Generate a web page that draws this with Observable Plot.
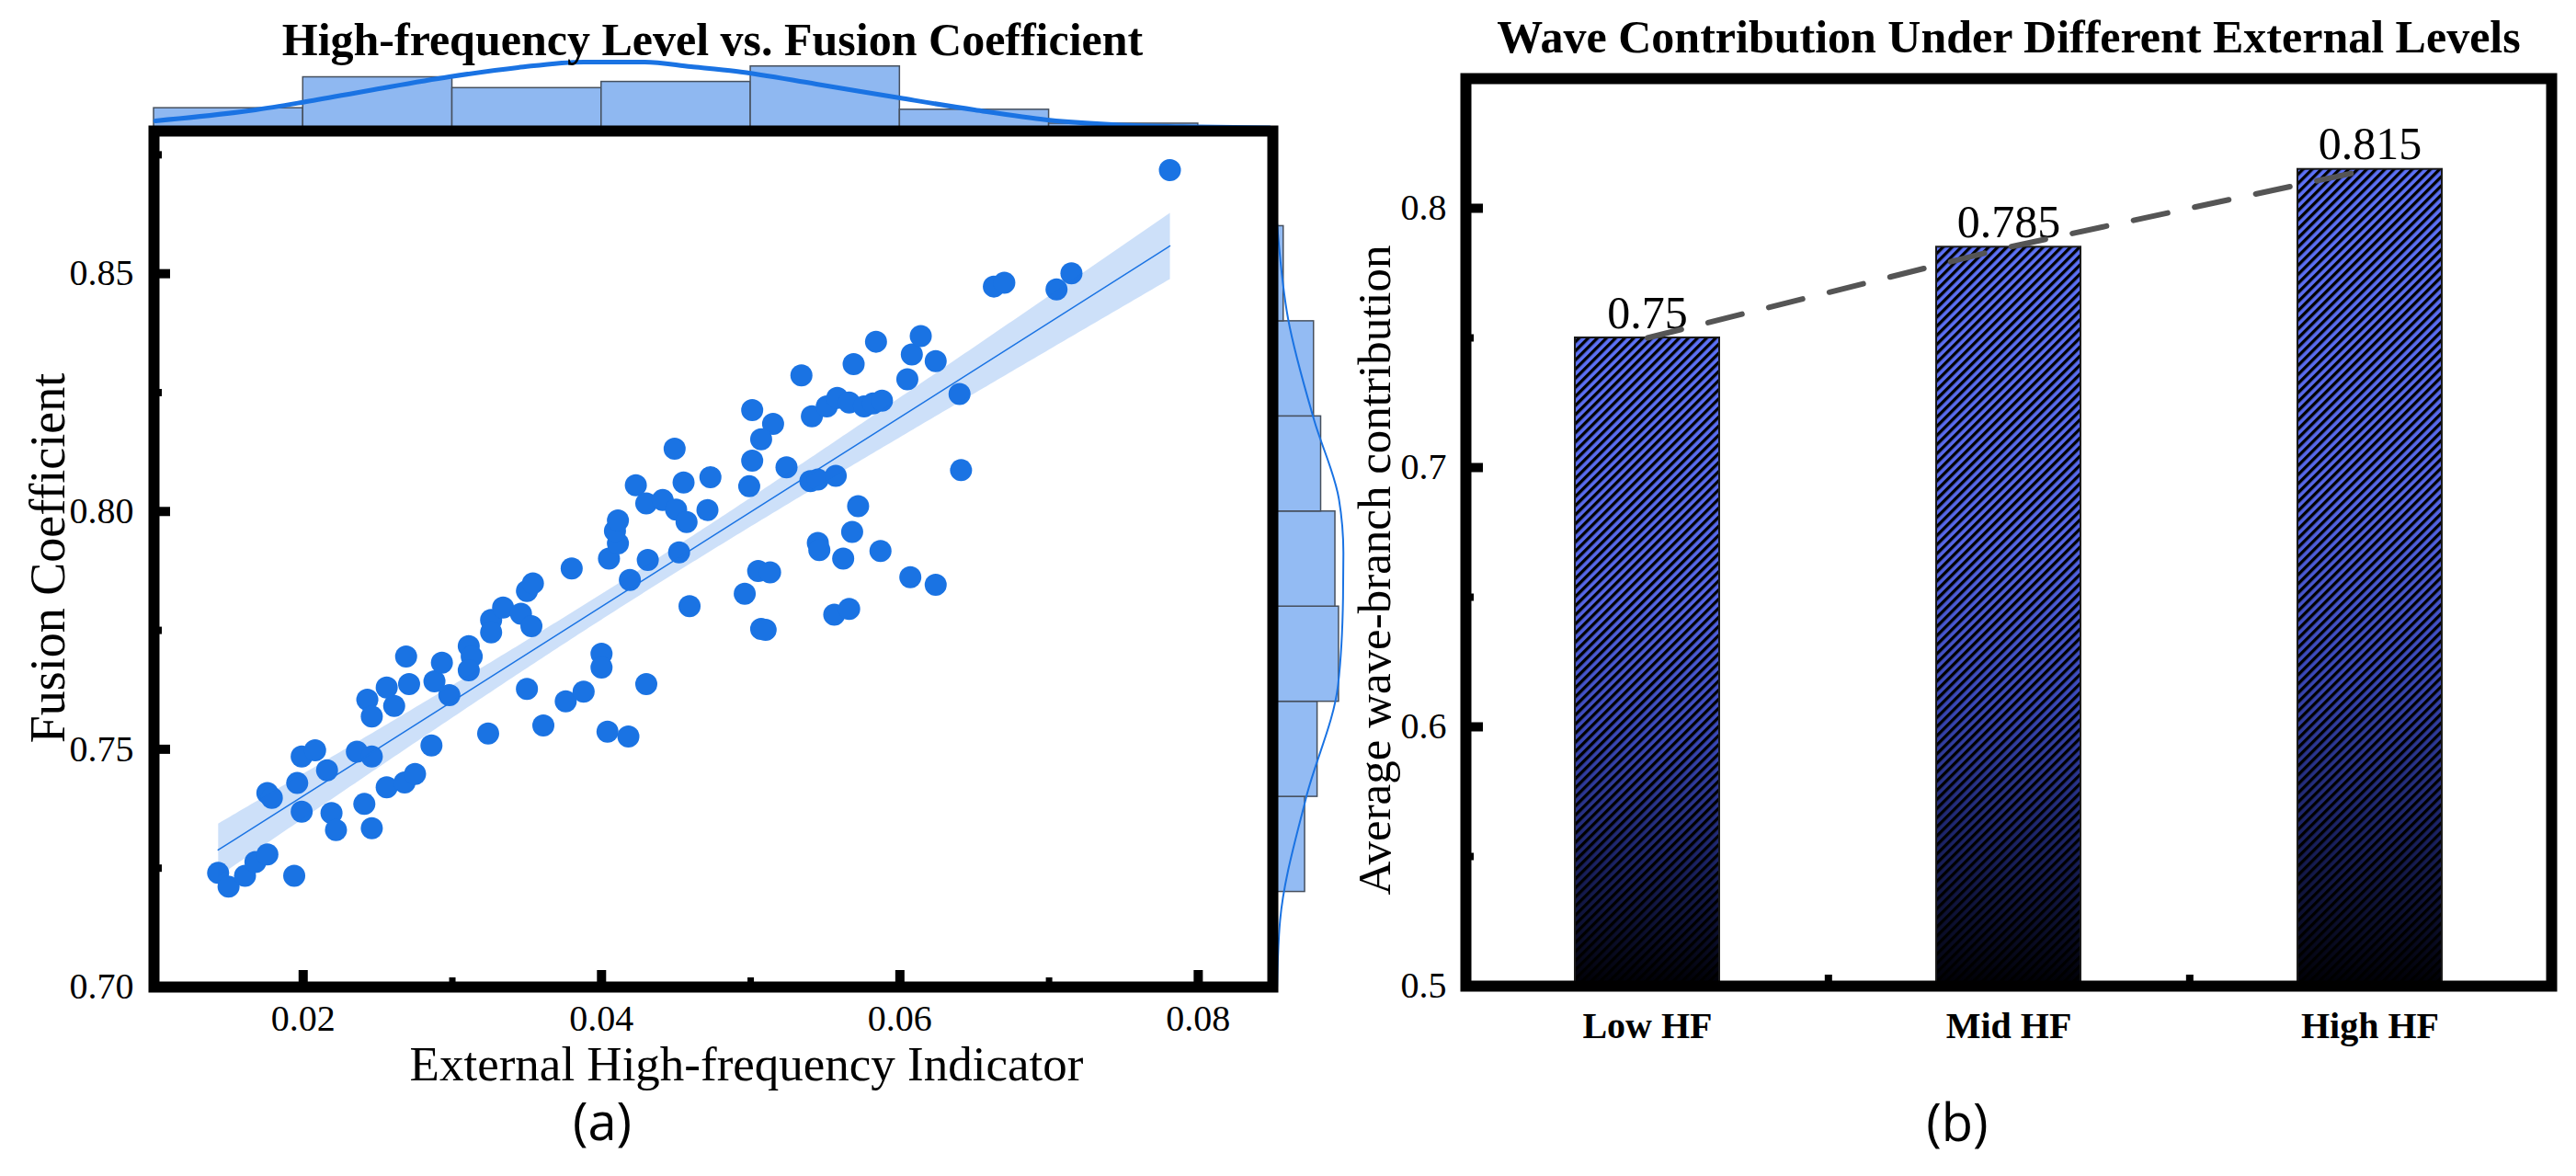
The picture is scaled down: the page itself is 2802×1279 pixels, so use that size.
<!DOCTYPE html>
<html><head><meta charset="utf-8">
<script src="https://cdn.jsdelivr.net/npm/d3@7"></script>
<script src="https://cdn.jsdelivr.net/npm/@observablehq/plot@0.6"></script>
<style>
html,body{margin:0;padding:0;background:#fff;}
#root{position:relative;width:2802px;height:1279px;overflow:hidden;background:#fff;}
</style></head>
<body><div id="root"></div>
<script>
// ---------------- DATA ----------------
const scatterX = [0.0143,0.0150,0.0161,0.0168,0.0176,0.0194,0.0176,0.0179,0.0196,0.0216,
0.0199,0.0219,0.0222,0.0246,0.0241,0.0256,0.0268,0.0275,0.0199,0.0208,
0.0236,0.0246,0.0286,0.0243,0.0246,0.0261,0.0256,0.0271,0.0288,0.0298,
0.0293,0.0269,0.0311,0.0313,0.0311,0.0324,0.0326,0.0326,0.0334,0.0346,
0.0353,0.0350,0.0354,0.0380,0.0350,0.0361,0.0376,0.0388,0.0400,0.0400,
0.0404,0.0418,0.0430,0.0405,0.0411,0.0409,0.0411,0.0419,0.0423,0.0430,
0.0441,0.0450,0.0457,0.0471,0.0431,0.0452,0.0449,0.0455,0.0473,0.0459,
0.0501,0.0515,0.0507,0.0501,0.0499,0.0524,0.0505,0.0513,0.0496,0.0507,
0.0510,0.0534,0.0541,0.0551,0.0558,0.0566,0.0576,0.0582,0.0588,0.0569,
0.0584,0.0540,0.0545,0.0557,0.0572,0.0568,0.0545,0.0546,0.0562,0.0587,
0.0556,0.0566,0.0605,0.0608,0.0614,0.0624,0.0640,0.0641,0.0607,0.0624,
0.0663,0.0670,0.0705,0.0715,0.0781];
const scatterY = [0.7240,0.7211,0.7234,0.7263,0.7279,0.7234,0.7408,0.7398,0.7429,0.7456,
0.7369,0.7366,0.7330,0.7334,0.7385,0.7420,0.7430,0.7448,0.7485,0.7498,
0.7495,0.7485,0.7508,0.7604,0.7569,0.7591,0.7630,0.7637,0.7643,0.7614,
0.7682,0.7695,0.7717,0.7695,0.7666,0.7533,0.7772,0.7746,0.7798,0.7785,
0.7759,0.7833,0.7849,0.7880,0.7627,0.7550,0.7601,0.7621,0.7701,0.7672,
0.7537,0.7527,0.7637,0.7901,0.7933,0.7959,0.7981,0.7856,0.8055,0.8017,
0.8024,0.8004,0.7978,0.8003,0.7898,0.7914,0.8132,0.8061,0.8072,0.7801,
0.8213,0.8184,0.8152,0.8107,0.8053,0.8093,0.7875,0.7872,0.7827,0.7753,
0.7751,0.8286,0.8200,0.8221,0.8239,0.8229,0.8221,0.8227,0.8233,0.8310,
0.8357,0.8064,0.8067,0.8075,0.8011,0.7957,0.7934,0.7919,0.7901,0.7917,
0.7783,0.7795,0.8278,0.8330,0.8369,0.8316,0.8247,0.8087,0.7862,0.7846,
0.8473,0.8481,0.8467,0.8501,0.8718];

// marginal histogram of x (bin edges + counts)
const xBinEdges = [0.01,0.02,0.03,0.04,0.05,0.06,0.07,0.08];
const xBinCounts = [13,33,26,30,40,12,3];
// marginal histogram of y
const yBinEdges = [0.72,0.74,0.76,0.78,0.80,0.82,0.84,0.86];
const yBinCounts = [16,23,35,33,25,21,4];

// marginal density curves (count units)
const kdeTopX = [0.0101,0.0168,0.0199,0.0244,0.0298,0.0344,0.0388,0.0429,0.0460,0.0490,0.0544,0.0600,0.0650,0.0699,0.0757,0.0800,0.0848];
const kdeTopD = [4.8,11.9,16.7,24.4,33.3,39.3,42.9,42.9,39.9,36.9,28.6,19.6,11.9,5.4,1.8,0.9,0.3];
const kdeRightY = [0.8606,0.8405,0.8192,0.8026,0.7913,0.7817,0.7635,0.7397,0.714,0.700];
const kdeRightD = [0.3,6.5,21.1,35,37.5,37.3,34.5,16.5,2,0.3];

// axis ticks, left panel
const leftXTicks = [0.02,0.04,0.06,0.08];
const leftXMinor = [0.03,0.05,0.07];
const leftYTicks = [0.70,0.75,0.80,0.85];
const leftYMinor = [0.725,0.775,0.825,0.875];

// right panel
const categories = ["Low HF","Mid HF","High HF"];
const barValues = [0.75,0.785,0.815];
const barBase = 0.5;
const rightYTicks = [0.5,0.6,0.7,0.8];
const rightYMinor = [0.55,0.65,0.75];

// ---------------- TABLES ----------------
const points = scatterX.map((x,i)=>({x, y: scatterY[i]}));
const xHist = xBinCounts.map((c,i)=>({x1: xBinEdges[i], x2: xBinEdges[i+1], count: c}));
const yHist = yBinCounts.map((c,i)=>({y1: yBinEdges[i], y2: yBinEdges[i+1], count: c}));
const kdeTop = kdeTopX.map((x,i)=>({x, d: kdeTopD[i]}));
const kdeRight = kdeRightY.map((y,i)=>({y, d: kdeRightD[i]}));
const bars = categories.map((c,i)=>({cat: c, value: barValues[i]}));

// ---------------- STYLE ----------------
const BLUE = "#1a73e3";
const SERIF = "'Liberation Serif','Times New Roman',Times,serif";
const fmt2 = d3.format(".2f");
const fmt1 = d3.format(".1f");
const root = document.getElementById("root");

function place(el, left, top) {
  Object.assign(el.style, {position: "absolute", left: left + "px", top: top + "px",
    background: "transparent", maxWidth: "none", overflow: "visible"});
  root.appendChild(el);
}

// ---------------- LEFT: marginals ----------------
const topM = Plot.plot({
  width: 1400, height: 139, marginLeft: 167, marginRight: 16, marginTop: 0, marginBottom: 0,
  x: {domain: [0.01, 0.085], axis: null},
  y: {domain: [0, 82.7], axis: null},
  marks: [
    Plot.rectY(xHist, {x1: "x1", x2: "x2", y: "count", fill: "#8fb8f1", stroke: "#46505e", strokeWidth: 1.5}),
    Plot.line(kdeTop, {x: "x", y: "d", curve: "monotone-x", stroke: BLUE, strokeWidth: 5}),
    Plot.ruleY([0], {stroke: "#0b2a5a", strokeWidth: 5})
  ]
});
place(topM, 0, 0);

const rightM = Plot.plot({
  width: 110, height: 1279, marginLeft: 0, marginRight: 0, marginTop: 142, marginBottom: 206,
  x: {domain: [0, 56.7], axis: null},
  y: {domain: [0.70, 0.88], axis: null},
  marks: [
    Plot.rectX(yHist, {y1: "y1", y2: "y2", x: "count", fill: "#93bbf3", stroke: "#46505e", strokeWidth: 1.5}),
    Plot.line(kdeRight, {x: "d", y: "y", curve: "monotone-y", stroke: BLUE, strokeWidth: 2})
  ]
});
place(rightM, 1388, 0);

// ---------------- LEFT: joint ----------------
const jW = 1400 - 167 - 16, jH = 1279 - 142 - 206;
const joint = Plot.plot({
  width: 1400, height: 1279, marginLeft: 167, marginRight: 16, marginTop: 142, marginBottom: 206,
  x: {domain: [0.01, 0.085], axis: null},
  y: {domain: [0.70, 0.88], axis: null},
  marks: [
    Plot.dot(points, {x: "x", y: "y", r: 12, fill: BLUE}),
    Plot.linearRegressionY(points, {x: "x", y: "y", stroke: BLUE, strokeWidth: 1.5, fill: BLUE, fillOpacity: 0.22}),
    Plot.ruleX(leftXTicks, {x: d => d, stroke: "black", strokeWidth: 10, insetTop: jH - 18}),
    Plot.ruleX(leftXMinor, {x: d => d, stroke: "black", strokeWidth: 7, insetTop: jH - 10}),
    Plot.ruleY(leftYTicks, {y: d => d, stroke: "black", strokeWidth: 10, insetRight: jW - 18}),
    Plot.ruleY(leftYMinor, {y: d => d, stroke: "black", strokeWidth: 8, insetRight: jW - 9}),
    Plot.frame({stroke: "black", strokeWidth: 12}),
    Plot.text(leftXTicks, {x: d => d, text: d => fmt2(d), frameAnchor: "bottom", lineAnchor: "bottom", dy: 47,
      fontSize: 40, fontFamily: SERIF, fill: "black"}),
    Plot.text(leftYTicks, {y: d => d, text: d => fmt2(d), frameAnchor: "left", textAnchor: "end", lineAnchor: "middle", dx: -22,
      fontSize: 40, fontFamily: SERIF, fill: "black"})
  ]
});
place(joint, 0, 0);

// ---------------- RIGHT: bars ----------------
const rW = 1402 - 194 - 27, rH = 1279 - 85 - 207;
const nCat = categories.length, pIn = 0.6, pOut = 0.3;
const step = rW / (nCat - pIn + 2 * pOut);

function defsMark() {
  const defs = d3.create("svg:defs");
  const g = defs.append("linearGradient").attr("id", "barGrad")
    .attr("x1", "0").attr("y1", "0").attr("x2", "0").attr("y2", "1");
  [["0%", "#5d72f7"], ["40%", "#5667e8"], ["62%", "#3a48b8"], ["80%", "#1c2468"], ["100%", "#000005"]]
    .forEach(([o, c]) => g.append("stop").attr("offset", o).attr("stop-color", c));
  const p = defs.append("pattern").attr("id", "barHatch").attr("patternUnits", "userSpaceOnUse")
    .attr("width", 7).attr("height", 7).attr("patternTransform", "rotate(45)");
  p.append("rect").attr("x", 0).attr("y", 0).attr("width", 3.3).attr("height", 7).attr("fill", "#000");
  return defs.node();
}

const rightChart = Plot.plot({
  width: 1402, height: 1279, marginLeft: 194, marginRight: 27, marginTop: 85, marginBottom: 207,
  x: {domain: categories, paddingInner: pIn, paddingOuter: pOut, align: 0.5, axis: null},
  y: {domain: [0.5, 0.85], axis: null},
  marks: [
    defsMark,
    Plot.barY(bars, {x: "cat", y1: barBase, y2: "value", fill: "url(#barGrad)"}),
    Plot.barY(bars, {x: "cat", y1: barBase, y2: "value", fill: "url(#barHatch)", stroke: "#1a1a1a", strokeWidth: 2}),
    Plot.text(bars, {x: "cat", y: "value", text: d => String(d.value), lineAnchor: "bottom", dy: -11,
      fontSize: 50, fontFamily: SERIF, fill: "black"}),
    Plot.line(bars, {x: "cat", y: "value", stroke: "#555555", strokeWidth: 6, strokeDasharray: "38,30"}),
    Plot.ruleY(rightYTicks, {y: d => d, stroke: "black", strokeWidth: 10, insetRight: rW - 19}),
    Plot.ruleY(rightYMinor, {y: d => d, stroke: "black", strokeWidth: 8, insetRight: rW - 9}),
    Plot.ruleX(categories.slice(0, -1), {x: d => d, dx: step / 2, stroke: "black", strokeWidth: 8, insetTop: rH - 12}),
    Plot.frame({stroke: "black", strokeWidth: 12}),
    Plot.text(rightYTicks, {y: d => d, text: d => fmt1(d), frameAnchor: "left", textAnchor: "end", lineAnchor: "middle", dx: -21,
      fontSize: 40, fontFamily: SERIF, fill: "black"}),
    Plot.text(categories, {x: d => d, text: d => d, frameAnchor: "bottom", lineAnchor: "bottom", dy: 56,
      fontSize: 40, fontWeight: "bold", fontFamily: SERIF, fill: "black"})
  ]
});
place(rightChart, 1400, 0);

// ---------------- TEXT OVERLAY ----------------
const overlay = d3.create("svg").attr("width", 2802).attr("height", 1279)
  .style("position", "absolute").style("left", "0px").style("top", "0px").style("pointer-events", "none");
function addText(txt, x, y, size, opts = {}) {
  const t = overlay.append("text").attr("x", x).attr("y", y).attr("text-anchor", "middle")
    .attr("font-family", opts.family || SERIF).attr("font-size", size).attr("fill", "#000").text(txt);
  if (opts.bold) t.attr("font-weight", "bold");
  if (opts.rotate) t.attr("transform", `rotate(-90 ${x} ${y})`);
  return t;
}
addText("High-frequency Level vs. Fusion Coefficient", 775, 60, 50, {bold: true});
addText("Wave Contribution Under Different External Levels", 2185, 57, 50, {bold: true});
addText("External High-frequency Indicator", 812, 1175, 53);
addText("Fusion Coefficient", 70, 607, 54, {rotate: true});
addText("Average wave-branch contribution", 1512, 620, 51, {rotate: true});
addText("(a)", 655, 1240, 56, {family: "'Open Sans','Noto Sans',sans-serif"});
addText("(b)", 2129, 1241, 56, {family: "'Open Sans','Noto Sans',sans-serif"});
root.appendChild(overlay.node());
</script>
</body></html>
